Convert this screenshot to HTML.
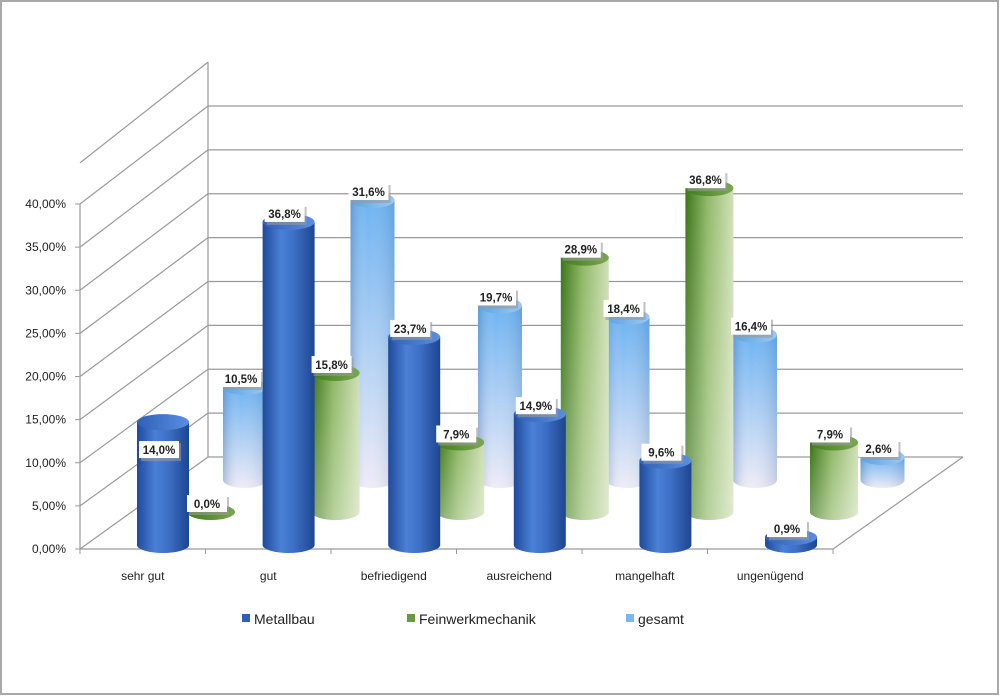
<!DOCTYPE html>
<html><head><meta charset="utf-8"><style>
html,body{margin:0;padding:0;background:#fff}
svg{display:block;font-family:"Liberation Sans",sans-serif}
</style></head><body>
<svg id="chart" width="1000" height="696" viewBox="0 0 1000 696">
<defs>
<linearGradient id="gBlue" x1="0" x2="1" y1="0" y2="0"><stop offset="0" stop-color="#1f4a9a"/><stop offset="0.35" stop-color="#4a80d6"/><stop offset="0.6" stop-color="#3d70c6"/><stop offset="1" stop-color="#1e4590"/></linearGradient>
<linearGradient id="gBlueTop" x1="0" x2="1"><stop offset="0" stop-color="#2f60b8"/><stop offset="1" stop-color="#5a8ee0"/></linearGradient>
<linearGradient id="gGreen" x1="0" x2="1" y1="0" y2="0"><stop offset="0" stop-color="#3a7418"/><stop offset="0.45" stop-color="#8fb866"/><stop offset="1" stop-color="#cfe0b6"/></linearGradient>
<linearGradient id="gGreenFade" x1="0" x2="0" y1="0" y2="1"><stop offset="0" stop-color="#fff" stop-opacity="0"/><stop offset="1" stop-color="#fff" stop-opacity="0.35"/></linearGradient>
<linearGradient id="gGreenTop" x1="0" x2="1"><stop offset="0" stop-color="#3f7d1c"/><stop offset="1" stop-color="#79a84e"/></linearGradient>
<linearGradient id="gLight" x1="0" x2="0" y1="0" y2="1"><stop offset="0" stop-color="#6db3f2"/><stop offset="1" stop-color="#efecf6"/></linearGradient>
<linearGradient id="gLightSide" x1="0" x2="1"><stop offset="0" stop-color="#3a6aa8" stop-opacity="0.35"/><stop offset="0.4" stop-color="#fff" stop-opacity="0"/><stop offset="1" stop-color="#2a5a98" stop-opacity="0.2"/></linearGradient>
<linearGradient id="gLightTop" x1="0" x2="1"><stop offset="0" stop-color="#5aa2e6"/><stop offset="1" stop-color="#9ccaf4"/></linearGradient>
</defs>
<rect x="1" y="1" width="997" height="693" fill="#fff" stroke="#a8a8a8" stroke-width="2"/>
<g id="axes"></g>
<g id="bars"></g>
<g id="labels"></g>
<g id="legend"></g>
</svg>
<script>
const categories = ["sehr gut","gut","befriedigend","ausreichend","mangelhaft","ungenügend"];
const metallbau = [14.0, 36.8, 23.7, 14.9, 9.6, 0.9];
const feinwerk = [0.0, 15.8, 7.9, 28.9, 36.8, 7.9];
const gesamt = [10.5, 31.6, 19.7, 18.4, 16.4, 2.6];
const tickValues = [0,5,10,15,20,25,30,35,40];
const tickLabels = ["0,00%","5,00%","10,00%","15,00%","20,00%","25,00%","30,00%","35,00%","40,00%"];
const seriesNames = ["Metallbau","Feinwerkmechanik","gesamt"];

const NS="http://www.w3.org/2000/svg";
function mk(tag, attrs, parent){const e=document.createElementNS(NS,tag);for(const k in attrs)e.setAttribute(k,attrs[k]);parent.appendChild(e);return e;}
const axes=document.getElementById('axes'), bars=document.getElementById('bars'), labels=document.getElementById('labels'), legend=document.getElementById('legend');

const fx0=80, fx1=833, fy0=549, pxPerPctFront=8.625;
const bx0=208, bx1=963, by0=457, pxPerPctBack=8.775;
const yFront=v=>fy0-v*pxPerPctFront;
const yBack=v=>by0-v*pxPerPctBack;
const catW=(fx1-fx0)/categories.length;

tickValues.forEach((t,i)=>{
  const l=mk('polyline',{points:`${fx0},${yFront(t)} ${bx0},${yBack(t)} ${bx1},${yBack(t)}`,fill:'none',stroke:'#9a9a9a','stroke-width':1.2},axes);
  
  
  const tk=mk('line',{x1:fx0-5,x2:fx0,y1:yFront(t),y2:yFront(t),stroke:'#9a9a9a'},axes);
  
  
  const tx=mk('text',{x:66,y:yFront(t)+4,'text-anchor':'end','font-size':12,fill:'#222'},axes);
  tx.textContent=tickLabels[i];
  
  
});
const topV=tickValues[tickValues.length-1]+5;
const lw=mk('line',{x1:bx0,x2:bx0,y1:yBack(topV),y2:by0,stroke:'#9a9a9a','stroke-width':1.2},axes);


const tl=mk('line',{x1:fx0,x2:bx0,y1:yFront(topV)+2,y2:yBack(topV),stroke:'#9a9a9a','stroke-width':1.2},axes);


const va=mk('line',{x1:fx0,x2:fx0,y1:yFront(40),y2:fy0,stroke:'#9a9a9a','stroke-width':1.2},axes);


const fl=mk('polyline',{points:`${fx0},${fy0} ${fx1},${fy0} ${bx1},${by0}`,fill:'none',stroke:'#9a9a9a','stroke-width':1.2},axes);


categories.forEach((c,i)=>{
  const x=fx0+catW*i;
  const tk=mk('line',{x1:x,x2:x,y1:fy0,y2:fy0+5,stroke:'#9a9a9a'},axes);
  
  
  const tx=mk('text',{x:x+catW/2,y:580,'text-anchor':'middle','font-size':12,fill:'#222'},axes);
  tx.textContent=c;
  
  
});
const tk2=mk('line',{x1:fx1,x2:fx1,y1:fy0,y2:fy0+5,stroke:'#9a9a9a'},axes);



const rows=[
 {data:gesamt, x0:245, dx:127.5, base:480, w:44, scale:8.86, fill:'url(#gLight)', overlay:'url(#gLightSide)', topFill:'url(#gLightTop)', name:'gesamt'},
 {data:feinwerk, x0:211, dx:124.6, base:512, w:48, scale:8.8, fill:'url(#gGreen)', overlay:'url(#gGreenFade)', topFill:'url(#gGreenTop)', name:'feinwerk'},
 {data:metallbau, x0:163, dx:125.6, base:545, w:52, scale:8.78, fill:'url(#gBlue)', overlay:null, topFill:'url(#gBlueTop)', name:'metallbau'}
];
const ry=8;
rows.forEach(r=>{
  r.data.forEach((v,i)=>{
    const cx=r.x0+r.dx*i, rx=r.w/2, yb=r.base, yt=r.base-v*r.scale;
    const g=mk('g',{},bars);
    
    
    mk('path',{d:`M${cx-rx},${yt} L${cx-rx},${yb} A${rx},${ry} 0 0 0 ${cx+rx},${yb} L${cx+rx},${yt} Z`,fill:r.fill},g);
    if(r.overlay) mk('path',{d:`M${cx-rx},${yt} L${cx-rx},${yb} A${rx},${ry} 0 0 0 ${cx+rx},${yb} L${cx+rx},${yt} Z`,fill:r.overlay},g);
    mk('ellipse',{cx:cx,cy:yt,rx:rx,ry:ry,fill:r.topFill},g);
    let ly=yt-8;
    if(r.name==='metallbau' && i===0) ly=yt+28;
    const lx=cx-3;
    const lg=mk('g',{},labels);
    
    
    mk('rect',{x:lx-19,y:ly-7,width:40,height:18,fill:'#9a9a9a',opacity:0.6},lg);
    mk('rect',{x:lx-21,y:ly-9,width:40,height:17,fill:'#fff'},lg);
    const t=mk('text',{x:lx-1,y:ly+4,'text-anchor':'middle','font-size':11.5,'font-weight':'bold',fill:'#222'},lg);
    t.textContent=v.toFixed(1).replace('.',',')+'%';
  });
});

const legX=[242,407,626], legCol=['#2f5fb8','#6a9a3e','#7ab8ee'];
seriesNames.forEach((n,i)=>{
  const g=mk('g',{},legend);
  
  
  mk('rect',{x:legX[i],y:614,width:8,height:8,fill:legCol[i]},g);
  const t=mk('text',{x:legX[i]+12,y:624,'font-size':14,fill:'#222'},g);
  t.textContent=n;
});
</script>
</body></html>
